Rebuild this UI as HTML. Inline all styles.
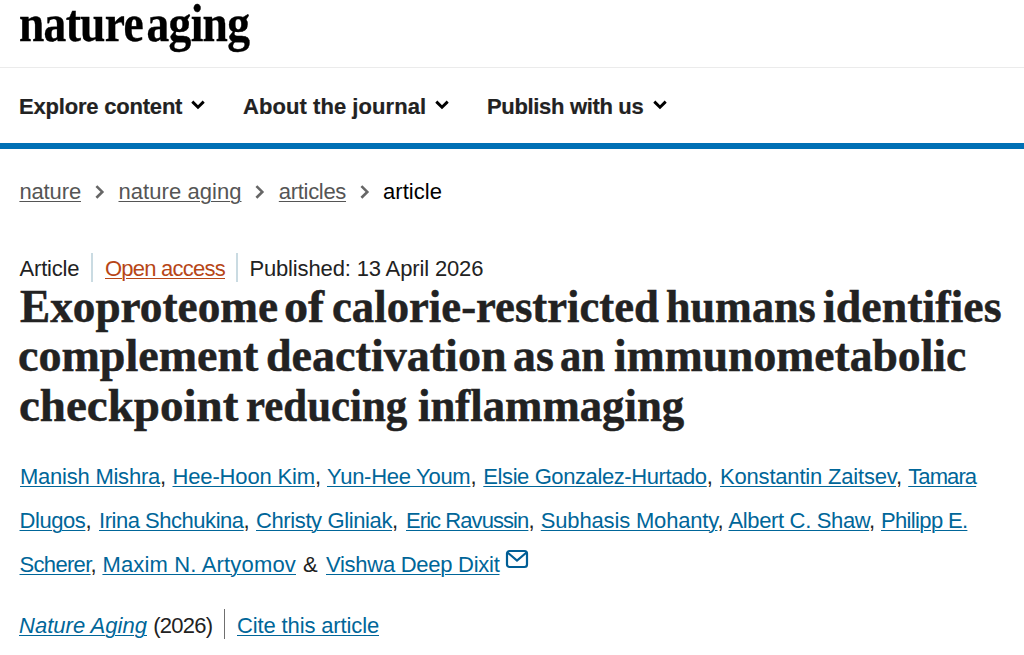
<!DOCTYPE html>
<html><head><meta charset="utf-8">
<style>
html,body{margin:0;padding:0;background:#fff;width:1024px;height:655px;overflow:hidden;position:relative}
body{font-family:"Liberation Sans",sans-serif;color:#222}
.a{position:absolute;white-space:nowrap;line-height:1}
#logo{left:19px;top:-2px;font-family:"Liberation Serif",serif;font-weight:bold;font-size:52px;color:#000;transform-origin:0 0;transform:scaleX(0.875);letter-spacing:-0.8px;word-spacing:-8px;-webkit-text-stroke:0.35px #000}
#hr{position:absolute;left:0;top:67px;width:1024px;height:1px;background:#ebebeb}
.nav{font-weight:bold;font-size:22px;color:#222;-webkit-text-stroke:0.2px #222}
#bar{position:absolute;left:0;top:143px;width:1024px;height:6px;background:#0070b5}
.bc{font-size:22px;color:#555}
.blk{color:#000}
u{text-decoration:underline;text-decoration-thickness:1px;text-underline-offset:2px}
.meta{font-size:22px;color:#222}
.sep{position:absolute;width:2px}
.oa{color:#b74616;text-decoration:underline;text-decoration-thickness:1px;text-underline-offset:2px}
.title{font-family:"Liberation Serif",serif;font-weight:bold;font-size:47px;color:#222;-webkit-text-stroke:0.5px #222}
.au{font-size:22px;color:#222}
.au a{color:#006699;text-decoration:underline;text-decoration-thickness:1px;text-underline-offset:2px}
svg{position:absolute;overflow:visible}

</style></head><body>
<div id="logo" class="a">nature aging</div>
<div id="hr"></div>
<svg style="left:191px;top:100px" width="14" height="9"><path d="M1.3 1.6 L7 7.3 L12.7 1.6" fill="none" stroke="#000" stroke-width="2.9"/></svg>
<svg style="left:435px;top:100px" width="14" height="9"><path d="M1.3 1.6 L7 7.3 L12.7 1.6" fill="none" stroke="#000" stroke-width="2.9"/></svg>
<svg style="left:653px;top:100px" width="14" height="9"><path d="M1.3 1.6 L7 7.3 L12.7 1.6" fill="none" stroke="#000" stroke-width="2.9"/></svg>
<div id="bar"></div>
<svg style="left:95px;top:185px" width="9" height="14"><path d="M1.4 1.1 L7.3 6.9 L1.4 12.7" fill="none" stroke="#666" stroke-width="2.6"/></svg>
<svg style="left:255px;top:185px" width="9" height="14"><path d="M1.4 1.1 L7.3 6.9 L1.4 12.7" fill="none" stroke="#666" stroke-width="2.6"/></svg>
<svg style="left:360px;top:185px" width="9" height="14"><path d="M1.4 1.1 L7.3 6.9 L1.4 12.7" fill="none" stroke="#666" stroke-width="2.6"/></svg>
<div class="sep" style="left:91px;top:253px;height:29px;background:#cadbe2"></div>
<div class="sep" style="left:236px;top:253px;height:29px;background:#cadbe2"></div>
<svg style="left:506px;top:550px" width="22" height="18"><rect x="1" y="1" width="20" height="16" rx="2.5" fill="none" stroke="#005e96" stroke-width="2.2"/><path d="M1.5 2.5 L11 10.5 L20.5 2.5" fill="none" stroke="#005e96" stroke-width="2.2"/></svg>
<div class="sep" style="left:224px;top:609px;height:30px;width:1px;background:#6f6f6f"></div>

<div id="n1" class="a nav" style="left:19.10px;top:96px;letter-spacing:-0.207px;">Explore content</div>
<div id="n2" class="a nav" style="left:243.00px;top:96px;letter-spacing:0.059px;">About the journal</div>
<div id="n3" class="a nav" style="left:487.00px;top:96px;letter-spacing:-0.333px;">Publish with us</div>
<div id="b1" class="a bc" style="left:19.40px;top:181px;letter-spacing:-0.132px;"><u>nature</u></div>
<div id="b2" class="a bc" style="left:118.50px;top:181px;letter-spacing:0.056px;"><u>nature aging</u></div>
<div id="b3" class="a bc" style="left:278.82px;top:181px;letter-spacing:-0.311px;"><u>articles</u></div>
<div id="b4" class="a bc blk" style="left:383.00px;top:181px;letter-spacing:0.057px;">article</div>
<div id="m1" class="a meta" style="left:19.60px;top:258px;letter-spacing:-0.200px;">Article</div>
<div id="m2" class="a meta" style="left:105.00px;top:258px;letter-spacing:-0.764px;"><span class="oa">Open access</span></div>
<div id="m3" class="a meta" style="left:249.40px;top:258px;letter-spacing:-0.142px;">Published: 13 April 2026</div>
<div id="t0_0" class="a title" style="left:20.00px;top:283px;transform:scaleX(0.9627);transform-origin:0 0;">Exoproteome</div>
<div id="t0_1" class="a title" style="left:284.00px;top:283px;transform:scaleX(1.0256);transform-origin:0 0;">of</div>
<div id="t0_2" class="a title" style="left:331.50px;top:283px;transform:scaleX(0.9516);transform-origin:0 0;">calorie-restricted</div>
<div id="t0_3" class="a title" style="left:665.60px;top:283px;transform:scaleX(0.9393);transform-origin:0 0;">humans</div>
<div id="t0_4" class="a title" style="left:822.90px;top:283px;transform:scaleX(0.9769);transform-origin:0 0;">identifies</div>
<div id="t1_0" class="a title" style="left:18.00px;top:332px;transform:scaleX(0.9796);transform-origin:0 0;">complement</div>
<div id="t1_1" class="a title" style="left:265.50px;top:332px;transform:scaleX(0.9803);transform-origin:0 0;">deactivation</div>
<div id="t1_2" class="a title" style="left:513.30px;top:332px;transform:scaleX(0.9750);transform-origin:0 0;">as</div>
<div id="t1_3" class="a title" style="left:559.80px;top:332px;transform:scaleX(0.9064);transform-origin:0 0;">an</div>
<div id="t1_4" class="a title" style="left:613.90px;top:332px;transform:scaleX(0.9707);transform-origin:0 0;">immunometabolic</div>
<div id="t2_0" class="a title" style="left:19.00px;top:382px;">checkpoint</div>
<div id="t2_1" class="a title" style="left:246.00px;top:382px;transform:scaleX(0.9125);transform-origin:0 0;">reducing</div>
<div id="t2_2" class="a title" style="left:417.90px;top:382px;transform:scaleX(0.9527);transform-origin:0 0;">inflammaging</div>
<div id="a1" class="a au" style="left:20.00px;top:466px;letter-spacing:-0.236px;"><a>Manish Mishra</a>,</div>
<div id="a2" class="a au" style="left:172.50px;top:466px;letter-spacing:-0.150px;"><a>Hee-Hoon Kim</a>,</div>
<div id="a3" class="a au" style="left:327.00px;top:466px;letter-spacing:-0.282px;"><a>Yun-Hee Youm</a>,</div>
<div id="a4" class="a au" style="left:483.30px;top:466px;letter-spacing:-0.407px;"><a>Elsie Gonzalez-Hurtado</a>,</div>
<div id="a5" class="a au" style="left:720.00px;top:466px;letter-spacing:-0.187px;"><a>Konstantin Zaitsev</a>,</div>
<div id="a6" class="a au" style="left:908.20px;top:466px;letter-spacing:-0.896px;"><a>Tamara</a></div>
<div id="a7" class="a au" style="left:19.50px;top:510px;letter-spacing:-0.431px;"><a>Dlugos</a>,</div>
<div id="a8" class="a au" style="left:99.00px;top:510px;letter-spacing:-0.470px;"><a>Irina Shchukina</a>,</div>
<div id="a9" class="a au" style="left:256.00px;top:510px;letter-spacing:-0.388px;"><a>Christy Gliniak</a>,</div>
<div id="a10" class="a au" style="left:406.00px;top:510px;letter-spacing:-0.931px;"><a>Eric Ravussin</a>,</div>
<div id="a11" class="a au" style="left:540.80px;top:510px;letter-spacing:-0.167px;"><a>Subhasis Mohanty</a>,</div>
<div id="a12" class="a au" style="left:728.41px;top:510px;letter-spacing:-0.344px;"><a>Albert C. Shaw</a>,</div>
<div id="a13" class="a au" style="left:881.00px;top:510px;letter-spacing:-0.655px;"><a>Philipp E.</a></div>
<div id="a14" class="a au" style="left:19.50px;top:554px;letter-spacing:-0.675px;"><a>Scherer</a>,</div>
<div id="a15" class="a au" style="left:102.41px;top:554px;letter-spacing:0.170px;"><a>Maxim N. Artyomov</a></div>
<div id="a16" class="a au" style="left:326.00px;top:554px;letter-spacing:-0.272px;"><a>Vishwa Deep Dixit</a></div>
<div id="amp" class="a au" style="left:303.00px;top:554px;letter-spacing:3.000px;">&amp;</div>
<div id="j1" class="a au" style="left:19.00px;top:615px;letter-spacing:0.033px;"><a><i>Nature Aging</i></a></div>
<div id="j2" class="a au" style="left:153.20px;top:615px;letter-spacing:-0.733px;">(2026)</div>
<div id="j3" class="a au" style="left:237.00px;top:615px;letter-spacing:-0.134px;"><a>Cite this article</a></div>
</body></html>
